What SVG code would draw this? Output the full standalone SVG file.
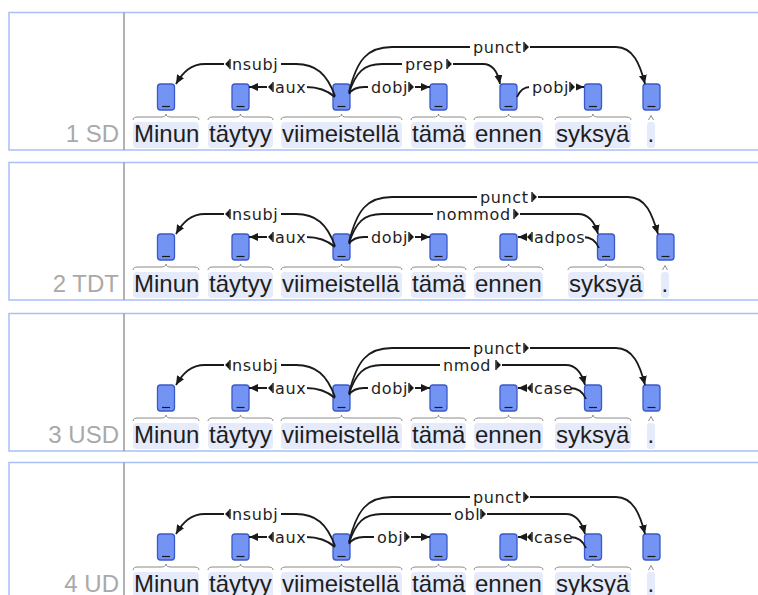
<svg xmlns="http://www.w3.org/2000/svg" xmlns:xlink="http://www.w3.org/1999/xlink" width="758" height="595" viewBox="0 0 758 595">
<style>
.frame{fill:none;stroke:#a8c0f6;stroke-width:1.5}
.sep{stroke:#9a9a9a;stroke-width:1.5}
.plabel{font-family:"Liberation Sans",Arial,sans-serif;font-size:24px;fill:#a9a9a9;text-anchor:end}
.wbox{fill:#e5ebfb}
.word{font-family:"Liberation Sans",Arial,sans-serif;font-size:24px;fill:#1e1e1e}
.brace{fill:none;stroke:#8a8a8a;stroke-width:1}
.tok{fill:#7394f2;stroke:#3a58c8;stroke-width:1.3}
.tick{stroke:#1a1a1a;stroke-width:1.2}
.arc{fill:none;stroke:#1a1a1a;stroke-width:1.8;marker-end:url(#ah)}
.gap{fill:#fff}
.lab{font-family:"DejaVu Sans",sans-serif;font-size:16px;letter-spacing:0.6px;fill:#1e1e1e}
</style>
<defs>
<marker id="ah" viewBox="0 0 9 8" refX="9" refY="4" markerWidth="9" markerHeight="8" markerUnits="userSpaceOnUse" orient="auto"><path d="M0,0 L9,4 L0,8 Z" fill="#1a1a1a"/></marker>
<!-- direction ticks beside relation labels -->
<g id="lmr"><path d="M0,-5V5" stroke="#1a1a1a" stroke-width="1.4"/><path d="M0.5,-4.5 L5,0 L0.5,4.5Z" fill="#1a1a1a"/></g>
<g id="lml"><path d="M5,-5V5" stroke="#1a1a1a" stroke-width="1.4"/><path d="M4.5,-4.5 L0,0 L4.5,4.5Z" fill="#1a1a1a"/></g>
</defs>
<rect width="758" height="595" fill="#fff"/>

<!-- ===== 1 SD ===== -->
<g id="panel-sd" transform="translate(0,12)">
<rect class="frame" x="9" y="0.5" width="760" height="137.5"/>
<line class="sep" x1="124" y1="0.5" x2="124" y2="138"/>
<text class="plabel" x="119" y="130">1 SD</text>
<g id="sd-w1"><rect class="wbox" x="133" y="110" width="66" height="26" rx="4"/><path class="brace" d="M133,108 Q133,105 138,105 L161,105 Q166,105 166,102 Q166,105 171,105 L194,105 Q199,105 199,108"/><text class="word" x="134" y="130">Minun</text><rect class="tok" x="157.5" y="72" width="17" height="26" rx="3"/><line class="tick" x1="162" y1="94.5" x2="170" y2="94.5"/></g>
<g id="sd-w2"><rect class="wbox" x="208" y="110" width="65" height="26" rx="4"/><path class="brace" d="M208,108 Q208,105 213,105 L235.5,105 Q240.5,105 240.5,102 Q240.5,105 245.5,105 L268,105 Q273,105 273,108"/><text class="word" x="209" y="130">täytyy</text><rect class="tok" x="232" y="72" width="17" height="26" rx="3"/><line class="tick" x1="236.5" y1="94.5" x2="244.5" y2="94.5"/></g>
<g id="sd-w3"><rect class="wbox" x="281" y="110" width="121" height="26" rx="4"/><path class="brace" d="M281,108 Q281,105 286,105 L336.5,105 Q341.5,105 341.5,102 Q341.5,105 346.5,105 L397,105 Q402,105 402,108"/><text class="word" x="282" y="130">viimeistellä</text><rect class="tok" x="333" y="72" width="17" height="26" rx="3"/><line class="tick" x1="337.5" y1="94.5" x2="345.5" y2="94.5"/></g>
<g id="sd-w4"><rect class="wbox" x="411" y="110" width="55" height="26" rx="4"/><path class="brace" d="M411,108 Q411,105 416,105 L433.5,105 Q438.5,105 438.5,102 Q438.5,105 443.5,105 L461,105 Q466,105 466,108"/><text class="word" x="412" y="130">tämä</text><rect class="tok" x="430" y="72" width="17" height="26" rx="3"/><line class="tick" x1="434.5" y1="94.5" x2="442.5" y2="94.5"/></g>
<g id="sd-w5"><rect class="wbox" x="474" y="110" width="69" height="26" rx="4"/><path class="brace" d="M474,108 Q474,105 479,105 L503.5,105 Q508.5,105 508.5,102 Q508.5,105 513.5,105 L538,105 Q543,105 543,108"/><text class="word" x="475" y="130">ennen</text><rect class="tok" x="500" y="72" width="17" height="26" rx="3"/><line class="tick" x1="504.5" y1="94.5" x2="512.5" y2="94.5"/></g>
<g id="sd-w6"><rect class="wbox" x="555" y="110" width="76" height="26" rx="4"/><path class="brace" d="M555,108 Q555,105 560,105 L588,105 Q593,105 593,102 Q593,105 598,105 L626,105 Q631,105 631,108"/><text class="word" x="556" y="130">syksyä</text><rect class="tok" x="584.5" y="72" width="17" height="26" rx="3"/><line class="tick" x1="589" y1="94.5" x2="597" y2="94.5"/></g>
<g id="sd-w7"><rect class="wbox" x="647" y="110" width="8" height="26" rx="3"/><path class="brace" d="M648.5,108 L651,103.5 L653.5,108"/><text class="word" x="647.5" y="130">.</text><rect class="tok" x="643" y="72" width="17" height="26" rx="3"/><line class="tick" x1="647.5" y1="94.5" x2="655.5" y2="94.5"/></g>
<g id="sd-arcs">
<path class="arc" d="M335,84 C327,62 316,52 296,52 L205,52 C191,52 183,60 176,72"/>
<path class="arc" d="M335,85 C327,78 318,75 306,75 L249,75"/>
<path class="arc" d="M349,82 C352,77 357,75 364,75 L430,75"/>
<path class="arc" d="M349,81 C356,60 364,52 382,52 L483,52 C494,52 498,61 500,72"/>
<path class="arc" d="M349,80 C357,48 367,35 392,35 L616,35 C633,35 640,52 645,72"/>
<path class="arc" d="M517,85 C520,78 524,75 530,75 L584,75"/>
<rect class="gap" x="224" y="45" width="57" height="14"/><use xlink:href="#lml" x="225" y="52"/><text class="lab" x="232" y="58">nsubj</text>
<rect class="gap" x="267" y="68" width="40" height="14"/><use xlink:href="#lml" x="268" y="75"/><text class="lab" x="275" y="81">aux</text>
<rect class="gap" x="368" y="68" width="47" height="14"/><text class="lab" x="371" y="81">dobj</text><use xlink:href="#lmr" x="409" y="75"/>
<rect class="gap" x="402" y="45" width="51" height="14"/><text class="lab" x="405" y="58">prep</text><use xlink:href="#lmr" x="447" y="52"/>
<rect class="gap" x="470" y="28" width="60" height="14"/><text class="lab" x="473" y="41">punct</text><use xlink:href="#lmr" x="524" y="35"/>
<rect class="gap" x="529" y="68" width="47" height="14"/><text class="lab" x="532" y="81">pobj</text><use xlink:href="#lmr" x="570" y="75"/>
</g>
</g>

<!-- ===== 2 TDT ===== -->
<g id="panel-tdt" transform="translate(0,162)">
<rect class="frame" x="9" y="0.5" width="760" height="137.5"/>
<line class="sep" x1="124" y1="0.5" x2="124" y2="138"/>
<text class="plabel" x="119" y="130">2 TDT</text>
<g id="tdt-w1"><rect class="wbox" x="133" y="110" width="66" height="26" rx="4"/><path class="brace" d="M133,108 Q133,105 138,105 L161,105 Q166,105 166,102 Q166,105 171,105 L194,105 Q199,105 199,108"/><text class="word" x="134" y="130">Minun</text><rect class="tok" x="157.5" y="72" width="17" height="26" rx="3"/><line class="tick" x1="162" y1="94.5" x2="170" y2="94.5"/></g>
<g id="tdt-w2"><rect class="wbox" x="208" y="110" width="65" height="26" rx="4"/><path class="brace" d="M208,108 Q208,105 213,105 L235.5,105 Q240.5,105 240.5,102 Q240.5,105 245.5,105 L268,105 Q273,105 273,108"/><text class="word" x="209" y="130">täytyy</text><rect class="tok" x="232" y="72" width="17" height="26" rx="3"/><line class="tick" x1="236.5" y1="94.5" x2="244.5" y2="94.5"/></g>
<g id="tdt-w3"><rect class="wbox" x="281" y="110" width="121" height="26" rx="4"/><path class="brace" d="M281,108 Q281,105 286,105 L336.5,105 Q341.5,105 341.5,102 Q341.5,105 346.5,105 L397,105 Q402,105 402,108"/><text class="word" x="282" y="130">viimeistellä</text><rect class="tok" x="333" y="72" width="17" height="26" rx="3"/><line class="tick" x1="337.5" y1="94.5" x2="345.5" y2="94.5"/></g>
<g id="tdt-w4"><rect class="wbox" x="411" y="110" width="55" height="26" rx="4"/><path class="brace" d="M411,108 Q411,105 416,105 L433.5,105 Q438.5,105 438.5,102 Q438.5,105 443.5,105 L461,105 Q466,105 466,108"/><text class="word" x="412" y="130">tämä</text><rect class="tok" x="430" y="72" width="17" height="26" rx="3"/><line class="tick" x1="434.5" y1="94.5" x2="442.5" y2="94.5"/></g>
<g id="tdt-w5"><rect class="wbox" x="474" y="110" width="69" height="26" rx="4"/><path class="brace" d="M474,108 Q474,105 479,105 L503.5,105 Q508.5,105 508.5,102 Q508.5,105 513.5,105 L538,105 Q543,105 543,108"/><text class="word" x="475" y="130">ennen</text><rect class="tok" x="500" y="72" width="17" height="26" rx="3"/><line class="tick" x1="504.5" y1="94.5" x2="512.5" y2="94.5"/></g>
<g id="tdt-w6"><rect class="wbox" x="568" y="110" width="76" height="26" rx="4"/><path class="brace" d="M568,108 Q568,105 573,105 L601,105 Q606,105 606,102 Q606,105 611,105 L639,105 Q644,105 644,108"/><text class="word" x="569" y="130">syksyä</text><rect class="tok" x="597.5" y="72" width="17" height="26" rx="3"/><line class="tick" x1="602" y1="94.5" x2="610" y2="94.5"/></g>
<g id="tdt-w7"><rect class="wbox" x="661" y="110" width="8" height="26" rx="3"/><path class="brace" d="M662.5,108 L665,103.5 L667.5,108"/><text class="word" x="661.5" y="130">.</text><rect class="tok" x="657" y="72" width="17" height="26" rx="3"/><line class="tick" x1="661.5" y1="94.5" x2="669.5" y2="94.5"/></g>
<g id="tdt-arcs">
<path class="arc" d="M335,84 C327,62 316,52 296,52 L205,52 C191,52 183,60 176,72"/>
<path class="arc" d="M335,85 C327,78 318,75 306,75 L249,75"/>
<path class="arc" d="M349,82 C352,77 357,75 364,75 L430,75"/>
<path class="arc" d="M349,81 C356,60 364,52 382,52 L578,52 C590,52 595,61 598,72"/>
<path class="arc" d="M349,80 C357,48 367,35 392,35 L628,35 C646,35 652,52 658,72"/>
<path class="arc" d="M599,86 C596,79 591,75 583,75 L518,75"/>
<rect class="gap" x="224" y="45" width="57" height="14"/><use xlink:href="#lml" x="225" y="52"/><text class="lab" x="232" y="58">nsubj</text>
<rect class="gap" x="267" y="68" width="40" height="14"/><use xlink:href="#lml" x="268" y="75"/><text class="lab" x="275" y="81">aux</text>
<rect class="gap" x="368" y="68" width="47" height="14"/><text class="lab" x="371" y="81">dobj</text><use xlink:href="#lmr" x="409" y="75"/>
<rect class="gap" x="433" y="45" width="87" height="14"/><text class="lab" x="436" y="58">nommod</text><use xlink:href="#lmr" x="514" y="52"/>
<rect class="gap" x="477" y="28" width="61" height="14"/><text class="lab" x="480" y="41">punct</text><use xlink:href="#lmr" x="532" y="35"/>
<rect class="gap" x="527" y="68" width="58" height="14"/><use xlink:href="#lml" x="527" y="75"/><text class="lab" x="534" y="81">adpos</text>
</g>
</g>

<!-- ===== 3 USD ===== -->
<g id="panel-usd" transform="translate(0,313)">
<rect class="frame" x="9" y="0.5" width="760" height="137.5"/>
<line class="sep" x1="124" y1="0.5" x2="124" y2="138"/>
<text class="plabel" x="119" y="130">3 USD</text>
<g id="usd-w1"><rect class="wbox" x="133" y="110" width="66" height="26" rx="4"/><path class="brace" d="M133,108 Q133,105 138,105 L161,105 Q166,105 166,102 Q166,105 171,105 L194,105 Q199,105 199,108"/><text class="word" x="134" y="130">Minun</text><rect class="tok" x="157.5" y="72" width="17" height="26" rx="3"/><line class="tick" x1="162" y1="94.5" x2="170" y2="94.5"/></g>
<g id="usd-w2"><rect class="wbox" x="208" y="110" width="65" height="26" rx="4"/><path class="brace" d="M208,108 Q208,105 213,105 L235.5,105 Q240.5,105 240.5,102 Q240.5,105 245.5,105 L268,105 Q273,105 273,108"/><text class="word" x="209" y="130">täytyy</text><rect class="tok" x="232" y="72" width="17" height="26" rx="3"/><line class="tick" x1="236.5" y1="94.5" x2="244.5" y2="94.5"/></g>
<g id="usd-w3"><rect class="wbox" x="281" y="110" width="121" height="26" rx="4"/><path class="brace" d="M281,108 Q281,105 286,105 L336.5,105 Q341.5,105 341.5,102 Q341.5,105 346.5,105 L397,105 Q402,105 402,108"/><text class="word" x="282" y="130">viimeistellä</text><rect class="tok" x="333" y="72" width="17" height="26" rx="3"/><line class="tick" x1="337.5" y1="94.5" x2="345.5" y2="94.5"/></g>
<g id="usd-w4"><rect class="wbox" x="411" y="110" width="55" height="26" rx="4"/><path class="brace" d="M411,108 Q411,105 416,105 L433.5,105 Q438.5,105 438.5,102 Q438.5,105 443.5,105 L461,105 Q466,105 466,108"/><text class="word" x="412" y="130">tämä</text><rect class="tok" x="430" y="72" width="17" height="26" rx="3"/><line class="tick" x1="434.5" y1="94.5" x2="442.5" y2="94.5"/></g>
<g id="usd-w5"><rect class="wbox" x="474" y="110" width="69" height="26" rx="4"/><path class="brace" d="M474,108 Q474,105 479,105 L503.5,105 Q508.5,105 508.5,102 Q508.5,105 513.5,105 L538,105 Q543,105 543,108"/><text class="word" x="475" y="130">ennen</text><rect class="tok" x="500" y="72" width="17" height="26" rx="3"/><line class="tick" x1="504.5" y1="94.5" x2="512.5" y2="94.5"/></g>
<g id="usd-w6"><rect class="wbox" x="555" y="110" width="76" height="26" rx="4"/><path class="brace" d="M555,108 Q555,105 560,105 L588,105 Q593,105 593,102 Q593,105 598,105 L626,105 Q631,105 631,108"/><text class="word" x="556" y="130">syksyä</text><rect class="tok" x="584.5" y="72" width="17" height="26" rx="3"/><line class="tick" x1="589" y1="94.5" x2="597" y2="94.5"/></g>
<g id="usd-w7"><rect class="wbox" x="647" y="110" width="8" height="26" rx="3"/><path class="brace" d="M648.5,108 L651,103.5 L653.5,108"/><text class="word" x="647.5" y="130">.</text><rect class="tok" x="643" y="72" width="17" height="26" rx="3"/><line class="tick" x1="647.5" y1="94.5" x2="655.5" y2="94.5"/></g>
<g id="usd-arcs">
<path class="arc" d="M335,84 C327,62 316,52 296,52 L205,52 C191,52 183,60 176,72"/>
<path class="arc" d="M335,85 C327,78 318,75 306,75 L249,75"/>
<path class="arc" d="M349,82 C352,77 357,75 364,75 L430,75"/>
<path class="arc" d="M349,81 C356,60 364,52 382,52 L566,52 C577,52 582,61 585,72"/>
<path class="arc" d="M349,80 C357,48 367,35 392,35 L616,35 C633,35 640,52 645,72"/>
<path class="arc" d="M586,86 C583,79 578,75 570,75 L518,75"/>
<rect class="gap" x="224" y="45" width="57" height="14"/><use xlink:href="#lml" x="225" y="52"/><text class="lab" x="232" y="58">nsubj</text>
<rect class="gap" x="267" y="68" width="40" height="14"/><use xlink:href="#lml" x="268" y="75"/><text class="lab" x="275" y="81">aux</text>
<rect class="gap" x="368" y="68" width="47" height="14"/><text class="lab" x="371" y="81">dobj</text><use xlink:href="#lmr" x="409" y="75"/>
<rect class="gap" x="440" y="45" width="62" height="14"/><text class="lab" x="443" y="58">nmod</text><use xlink:href="#lmr" x="496" y="52"/>
<rect class="gap" x="470" y="28" width="60" height="14"/><text class="lab" x="473" y="41">punct</text><use xlink:href="#lmr" x="524" y="35"/>
<rect class="gap" x="527" y="68" width="44" height="14"/><use xlink:href="#lml" x="527" y="75"/><text class="lab" x="534" y="81">case</text>
</g>
</g>

<!-- ===== 4 UD ===== -->
<g id="panel-ud" transform="translate(0,462)">
<rect class="frame" x="9" y="0.5" width="760" height="137.5"/>
<line class="sep" x1="124" y1="0.5" x2="124" y2="138"/>
<text class="plabel" x="119" y="130">4 UD</text>
<g id="ud-w1"><rect class="wbox" x="133" y="110" width="66" height="26" rx="4"/><path class="brace" d="M133,108 Q133,105 138,105 L161,105 Q166,105 166,102 Q166,105 171,105 L194,105 Q199,105 199,108"/><text class="word" x="134" y="130">Minun</text><rect class="tok" x="157.5" y="72" width="17" height="26" rx="3"/><line class="tick" x1="162" y1="94.5" x2="170" y2="94.5"/></g>
<g id="ud-w2"><rect class="wbox" x="208" y="110" width="65" height="26" rx="4"/><path class="brace" d="M208,108 Q208,105 213,105 L235.5,105 Q240.5,105 240.5,102 Q240.5,105 245.5,105 L268,105 Q273,105 273,108"/><text class="word" x="209" y="130">täytyy</text><rect class="tok" x="232" y="72" width="17" height="26" rx="3"/><line class="tick" x1="236.5" y1="94.5" x2="244.5" y2="94.5"/></g>
<g id="ud-w3"><rect class="wbox" x="281" y="110" width="121" height="26" rx="4"/><path class="brace" d="M281,108 Q281,105 286,105 L336.5,105 Q341.5,105 341.5,102 Q341.5,105 346.5,105 L397,105 Q402,105 402,108"/><text class="word" x="282" y="130">viimeistellä</text><rect class="tok" x="333" y="72" width="17" height="26" rx="3"/><line class="tick" x1="337.5" y1="94.5" x2="345.5" y2="94.5"/></g>
<g id="ud-w4"><rect class="wbox" x="411" y="110" width="55" height="26" rx="4"/><path class="brace" d="M411,108 Q411,105 416,105 L433.5,105 Q438.5,105 438.5,102 Q438.5,105 443.5,105 L461,105 Q466,105 466,108"/><text class="word" x="412" y="130">tämä</text><rect class="tok" x="430" y="72" width="17" height="26" rx="3"/><line class="tick" x1="434.5" y1="94.5" x2="442.5" y2="94.5"/></g>
<g id="ud-w5"><rect class="wbox" x="474" y="110" width="69" height="26" rx="4"/><path class="brace" d="M474,108 Q474,105 479,105 L503.5,105 Q508.5,105 508.5,102 Q508.5,105 513.5,105 L538,105 Q543,105 543,108"/><text class="word" x="475" y="130">ennen</text><rect class="tok" x="500" y="72" width="17" height="26" rx="3"/><line class="tick" x1="504.5" y1="94.5" x2="512.5" y2="94.5"/></g>
<g id="ud-w6"><rect class="wbox" x="555" y="110" width="76" height="26" rx="4"/><path class="brace" d="M555,108 Q555,105 560,105 L588,105 Q593,105 593,102 Q593,105 598,105 L626,105 Q631,105 631,108"/><text class="word" x="556" y="130">syksyä</text><rect class="tok" x="584.5" y="72" width="17" height="26" rx="3"/><line class="tick" x1="589" y1="94.5" x2="597" y2="94.5"/></g>
<g id="ud-w7"><rect class="wbox" x="647" y="110" width="8" height="26" rx="3"/><path class="brace" d="M648.5,108 L651,103.5 L653.5,108"/><text class="word" x="647.5" y="130">.</text><rect class="tok" x="643" y="72" width="17" height="26" rx="3"/><line class="tick" x1="647.5" y1="94.5" x2="655.5" y2="94.5"/></g>
<g id="ud-arcs">
<path class="arc" d="M335,84 C327,62 316,52 296,52 L205,52 C191,52 183,60 176,72"/>
<path class="arc" d="M335,85 C327,78 318,75 306,75 L249,75"/>
<path class="arc" d="M349,82 C352,77 357,75 364,75 L430,75"/>
<path class="arc" d="M349,81 C356,60 364,52 382,52 L566,52 C577,52 582,61 585,72"/>
<path class="arc" d="M349,80 C357,48 367,35 392,35 L616,35 C633,35 640,52 645,72"/>
<path class="arc" d="M586,86 C583,79 578,75 570,75 L518,75"/>
<rect class="gap" x="224" y="45" width="57" height="14"/><use xlink:href="#lml" x="225" y="52"/><text class="lab" x="232" y="58">nsubj</text>
<rect class="gap" x="374" y="68" width="37" height="14"/><text class="lab" x="377" y="81">obj</text><use xlink:href="#lmr" x="405" y="75"/>
<rect class="gap" x="267" y="68" width="40" height="14"/><use xlink:href="#lml" x="268" y="75"/><text class="lab" x="275" y="81">aux</text>
<rect class="gap" x="451" y="45" width="36" height="14"/><text class="lab" x="454" y="58">obl</text><use xlink:href="#lmr" x="481" y="52"/>
<rect class="gap" x="470" y="28" width="60" height="14"/><text class="lab" x="473" y="41">punct</text><use xlink:href="#lmr" x="524" y="35"/>
<rect class="gap" x="527" y="68" width="44" height="14"/><use xlink:href="#lml" x="527" y="75"/><text class="lab" x="534" y="81">case</text>
</g>
</g>
</svg>
